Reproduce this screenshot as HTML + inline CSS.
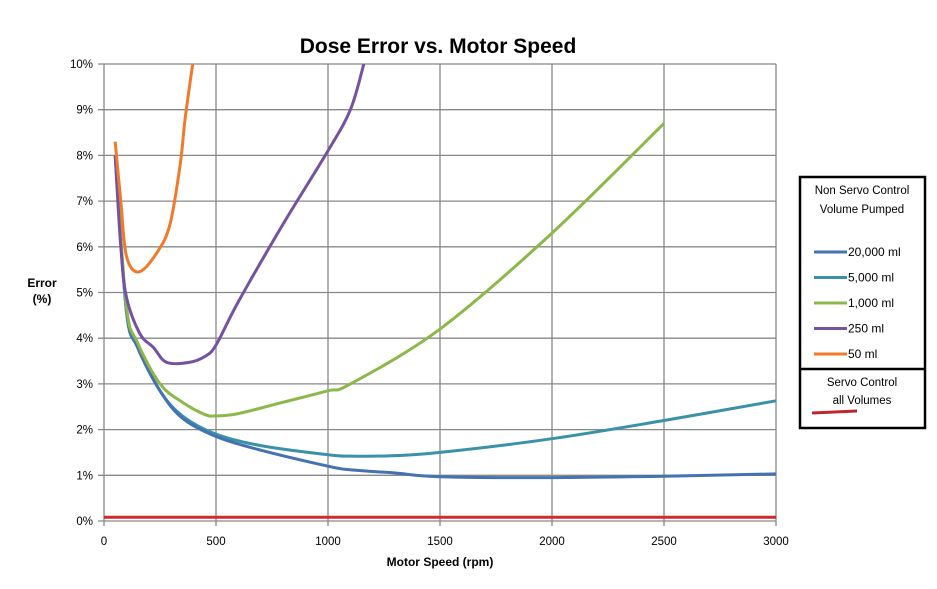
<!DOCTYPE html>
<html><head><meta charset="utf-8"><style>
body{margin:0;background:#fff;font-family:"Liberation Sans",sans-serif;}
svg text{font-family:"Liberation Sans",sans-serif;}
</style></head><body>
<svg width="937" height="584" viewBox="0 0 937 584">
<text x="438" y="53" text-anchor="middle" font-size="21" font-weight="bold">Dose Error vs. Motor Speed</text>
<g id="grid"></g>
<g id="series"></g>
<text x="42" y="287" text-anchor="middle" font-size="12" font-weight="bold">Error</text>
<text x="42" y="303" text-anchor="middle" font-size="12" font-weight="bold">(%)</text>
<text x="440" y="566" text-anchor="middle" font-size="12" font-weight="bold">Motor Speed (rpm)</text>
<g>
<rect x="800" y="177" width="125" height="251" fill="#fff" stroke="#000" stroke-width="2.5"/>
<line x1="800" y1="369" x2="925" y2="369" stroke="#000" stroke-width="2.5"/>
<text x="862" y="194" text-anchor="middle" font-size="11.5">Non Servo Control</text>
<text x="862" y="213" text-anchor="middle" font-size="11.5">Volume Pumped</text>
<g id="legend-entries"></g>
<text x="862" y="386" text-anchor="middle" font-size="11.5">Servo Control</text>
<text x="862" y="404" text-anchor="middle" font-size="11.5">all Volumes</text>
<line x1="812" y1="413" x2="857" y2="411" stroke="#c0272d" stroke-width="3"/>
</g>
</svg>
<script>
const xTicks=[0,500,1000,1500,2000,2500,3000];
const yTicks=[0,1,2,3,4,5,6,7,8,9,10];
const seriesNames=["20,000 ml","5,000 ml","1,000 ml","250 ml","50 ml"];
const seriesColors=["#4572b0","#3a91a8","#8cb84a","#7552a0","#ef7a2c"];
const s20000=[[50,8.0],[100,4.6],[150,3.8],[250,2.85],[350,2.25],[500,1.85],[700,1.55],[1000,1.2],[1100,1.12],[1300,1.05],[1500,0.97],[2000,0.95],[2500,0.98],[3000,1.03]];
const s5000=[[50,8.0],[100,4.6],[150,3.8],[250,2.85],[350,2.3],[500,1.9],[700,1.65],[1000,1.45],[1100,1.42],[1300,1.43],[1500,1.5],[2000,1.8],[2500,2.2],[3000,2.63]];
const s1000=[[50,8.0],[100,4.7],[150,3.9],[250,3.0],[350,2.6],[450,2.33],[500,2.3],[600,2.35],[800,2.6],[1000,2.85],[1100,3.0],[1500,4.2],[2000,6.3],[2500,8.7]];
const s250=[[50,8.0],[75,6.0],[100,4.9],[160,4.1],[220,3.8],[280,3.47],[380,3.47],[450,3.6],[500,3.85],[600,4.8],[800,6.5],[1000,8.1],[1100,9.0],[1160,10]];
const s50=[[50,8.3],[75,7.0],[100,5.8],[156,5.45],[240,5.9],[295,6.5],[340,7.8],[362,8.8],[396,10]];
const servo=[[0,0.08],[3000,0.08]];
const X=v=>104+v*0.224, Y=v=>521-v*45.7;
const NS="http://www.w3.org/2000/svg";
const grid=document.getElementById('grid');
function mk(t,a,p){const e=document.createElementNS(NS,t);for(const k in a)e.setAttribute(k,a[k]);p.appendChild(e);return e;}
yTicks.forEach(v=>{
 const l=mk('line',{x1:98,x2:X(3000),y1:Y(v),y2:Y(v),stroke:'#888','stroke-width':1.3},grid);
 
 
 const t=mk('text',{x:93,y:Y(v)+4,'text-anchor':'end','font-size':11.5},grid);t.textContent=v+'%';
 
 
});
xTicks.forEach(v=>{
 const l=mk('line',{x1:X(v),x2:X(v),y1:Y(10),y2:Y(0)+5,stroke:'#888','stroke-width':1.3},grid);
 
 
 const t=mk('text',{x:X(v),y:545,'text-anchor':'middle','font-size':11.5},grid);t.textContent=v;
 
 
});
const ser=document.getElementById('series');
const all=[s20000,s5000,s1000,s250,s50];
function path(d){
 const p=d.map(q=>[X(q[0]),Y(q[1])]);
 let s='M'+p[0][0].toFixed(1)+','+p[0][1].toFixed(1);
 for(let i=0;i<p.length-1;i++){
  const p0=p[i-1]||p[i],p1=p[i],p2=p[i+1],p3=p[i+2]||p2,k=6;
  const c1=[p1[0]+(p2[0]-p0[0])/k,p1[1]+(p2[1]-p0[1])/k];
  const c2=[p2[0]-(p3[0]-p1[0])/k,p2[1]-(p3[1]-p1[1])/k];
  s+='C'+c1.map(v=>v.toFixed(1))+' '+c2.map(v=>v.toFixed(1))+' '+p2.map(v=>v.toFixed(1));
 }
 return s;
}
const red=mk('path',{d:path(servo),fill:'none',stroke:'#d02a2a','stroke-width':3},ser);


[1,0,2,3,4].forEach(i=>{
 const p=mk('path',{d:path(all[i]),fill:'none',stroke:seriesColors[i],'stroke-width':3,'stroke-linejoin':'round'},ser);
 
 
});
const le=document.getElementById('legend-entries');
seriesNames.forEach((n,i)=>{
 const y=252+i*25.5;
 const l=mk('line',{x1:814,x2:847,y1:y,y2:y,stroke:seriesColors[i],'stroke-width':3},le);
 
 
 const t=mk('text',{x:848,y:y+4,'font-size':12},le);t.textContent=n;
 
 
});
</script>
</body></html>
